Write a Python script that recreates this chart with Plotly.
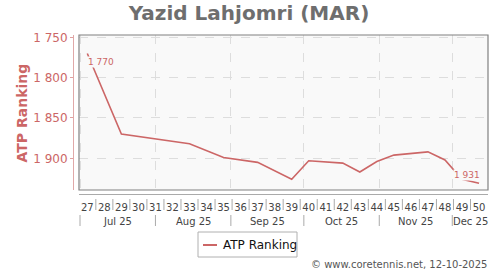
import datetime as dt
import plotly.graph_objects as go

# ---- data ----
weeks = [27, 29, 33, 35, 37, 39, 40, 42, 43, 44, 45, 47, 48, 49, 50]
ranks = [1770, 1870, 1882, 1899, 1905, 1926, 1903, 1906, 1917, 1904, 1896, 1892, 1902, 1926, 1931]
tick_weeks = list(range(27, 51))
month_labels = ["Jul 25", "Aug 25", "Sep 25", "Oct 25", "Nov 25", "Dec 25"]
month_starts = [dt.datetime(2025, m, 1) for m in range(7, 13)]
y_ticks = [1750, 1800, 1850, 1900]
YEAR = 2025

RED = "#cc6666"
PLOT_BG = "#f9f9f9"
W, H = 500, 270
ML, MR, MT, MB = 73, 12, 35, 76
IW, IH = W - ML - MR, H - MT - MB


def px_x(p):
    return (p - ML) / IW


def px_y(p):
    return (H - MB - p) / IH


def week_date(w):
    return dt.datetime.combine(dt.date.fromisocalendar(YEAR, w, 5), dt.time())


x_start = dt.datetime(2025, 6, 30, 14, 0)
x_end = dt.datetime(2025, 12, 15, 16, 30)

xs = [week_date(w) for w in weeks]
fmt = lambda v: f"{v:,}".replace(",", " ")

fig = go.Figure()
fig.add_trace(go.Scatter(x=xs, y=ranks, mode="lines", name="ATP Ranking",
                         line=dict(color=RED, width=1.6), showlegend=False))

annotations = []
# data labels on first and last points
annotations.append(dict(x=xs[0], y=ranks[0], xref="x", yref="y", text=fmt(ranks[0]),
                        showarrow=False, xanchor="left", yanchor="middle", xshift=0, yshift=-8.5,
                        font=dict(size=9, color=RED, family="DejaVu Sans"),
                        bgcolor=PLOT_BG, borderpad=0))
annotations.append(dict(x=xs[-1], y=ranks[-1], xref="x", yref="y", text=fmt(ranks[-1]),
                        showarrow=False, xanchor="right", yanchor="middle", xshift=2, yshift=8.5,
                        font=dict(size=9, color=RED, family="DejaVu Sans"),
                        bgcolor=PLOT_BG, borderpad=0))

shapes = []
# plot border
shapes.append(dict(type="rect", xref="x domain", yref="y domain", x0=0, x1=1, y0=0, y1=1,
                   line=dict(color="#808080", width=1.2), layer="above"))
# week separators
for w in tick_weeks[1:]:
    xd = dt.datetime.combine(dt.date.fromisocalendar(YEAR, w, 1), dt.time(12))
    shapes.append(dict(type="line", xref="x", yref="paper", x0=xd, x1=xd,
                       y0=px_y(199), y1=px_y(210), line=dict(color="#aaaaaa", width=1)))
# month separators and labels
for i, ms in enumerate(month_starts):
    shapes.append(dict(type="line", xref="x", yref="paper", x0=ms, x1=ms,
                       y0=px_y(215), y1=px_y(226), line=dict(color="#aaaaaa", width=1)))
    me = month_starts[i + 1] if i + 1 < len(month_starts) else dt.datetime(2026, 1, 1)
    a, b = max(ms, x_start), min(me, x_end)
    mid = a + (b - a) / 2
    annotations.append(dict(x=mid, xref="x", y=px_y(221), yref="paper", text=month_labels[i],
                            showarrow=False, xanchor="center", yanchor="middle",
                            font=dict(size=10, color="#444444", family="DejaVu Sans")))

# legend (manual)
shapes.append(dict(type="rect", xref="paper", yref="paper", x0=px_x(198), x1=px_x(297),
                   y0=px_y(257), y1=px_y(232), line=dict(color="#b0b0b0", width=1),
                   fillcolor="white"))
shapes.append(dict(type="line", xref="paper", yref="paper", x0=px_x(203), x1=px_x(217),
                   y0=px_y(245), y1=px_y(245), line=dict(color=RED, width=2)))
annotations.append(dict(x=px_x(221), y=px_y(245), xref="paper", yref="paper", text="ATP Ranking",
                        showarrow=False, xanchor="left", yanchor="middle",
                        font=dict(size=12, color="#111111", family="DejaVu Sans")))
# footer
annotations.append(dict(x=px_x(489), y=px_y(264), xref="paper", yref="paper",
                        text="© www.coretennis.net, 12-10-2025", showarrow=False,
                        xanchor="right", yanchor="middle",
                        font=dict(size=10, color="#555555", family="DejaVu Sans")))
# y axis title
annotations.append(dict(x=px_x(21), y=px_y(112.5), xref="paper", yref="paper",
                        text="<b>ATP Ranking</b>", textangle=-90, showarrow=False,
                        xanchor="center", yanchor="middle",
                        font=dict(size=14, color=RED, family="DejaVu Sans")))

fig.update_layout(
    width=W, height=H,
    margin=dict(l=ML, r=MR, t=MT, b=MB, pad=0),
    paper_bgcolor="white", plot_bgcolor=PLOT_BG,
    separators=". ",
    font=dict(family="DejaVu Sans"),
    title=dict(text="<b>Yazid Lahjomri (MAR)</b>", x=0.498, xanchor="center",
               y=1 - 12.5 / H, yanchor="middle", yref="container",
               font=dict(size=20, color="#6e6e6e", family="DejaVu Sans")),
    xaxis=dict(type="date", range=[x_start, x_end], domain=[6 / IW, 1],
               anchor="free", position=0,
               tickmode="array", tickvals=[week_date(w) for w in tick_weeks],
               ticktext=[str(w) for w in tick_weeks], ticks="",
               tickfont=dict(size=10, color="#444444"), ticklabelstandoff=4,
               showgrid=False, zeroline=False,
               showline=True, linecolor="#aaaaaa", linewidth=1,
               minor=dict(tickmode="array", tickvals=month_starts, showgrid=True,
                          gridcolor="#dddddd", griddash="dash", gridwidth=1, ticks="")),
    yaxis=dict(range=[1939.3, 1747.1], autorange=False, domain=[4 / IH, 1],
               anchor="free", position=0,
               tickmode="array", tickvals=y_ticks, tickformat=",d",
               ticks="outside", ticklen=3, tickcolor="#e0a0a0",
               tickfont=dict(size=12, color=RED),
               showgrid=True, gridcolor="#dddddd", griddash="dash", gridwidth=1,
               zeroline=False, showline=True, linecolor="#e0a8a8", linewidth=1),
    shapes=shapes, annotations=annotations,
)

fig.write_html("out.html")
